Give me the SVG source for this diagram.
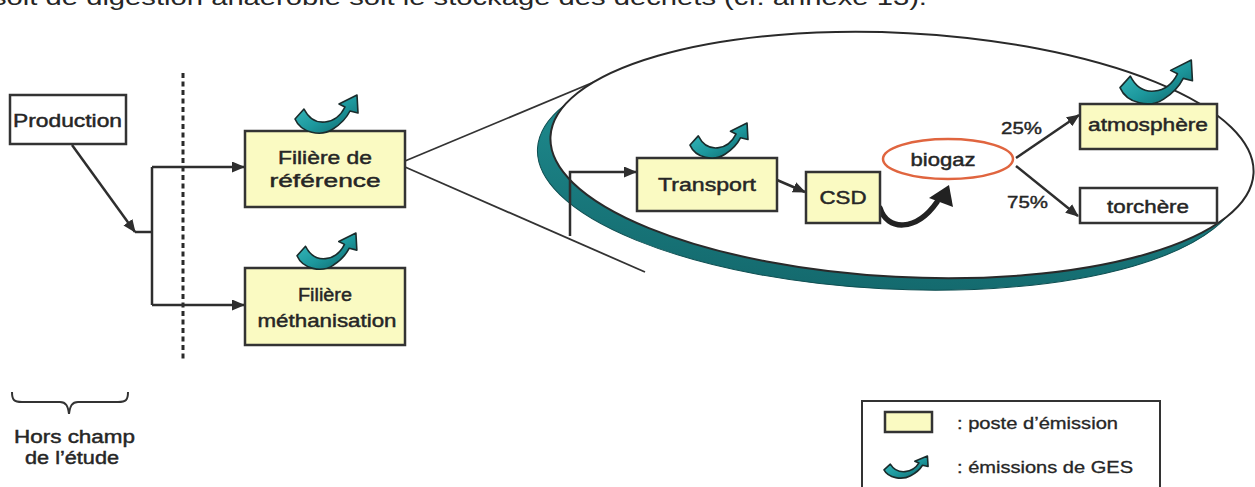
<svg xmlns="http://www.w3.org/2000/svg" xmlns:xlink="http://www.w3.org/1999/xlink" width="1255" height="487" viewBox="0 0 1255 487">
  <defs>
    <style>
      text { font-family: "Liberation Sans", Arial, sans-serif; fill: #262626; }
      .lbl { font-size: 18px; text-anchor: middle; stroke: #262626; stroke-width: 0.45; }
      .small { font-size: 16px; stroke: #262626; stroke-width: 0.3; }
      .box { stroke: #333; stroke-width: 2.5; }
      .poste { fill: #fafac2; }
      .plain { fill: #ffffff; }
      .conn { fill: none; stroke: #2e2e2e; stroke-width: 2.5; }
      .thin { fill: none; stroke: #333; stroke-width: 1.8; }
    </style>
    <marker id="arrow" markerUnits="userSpaceOnUse" markerWidth="13" markerHeight="11" refX="12" refY="5.5" orient="auto">
      <path d="M0,0 L13,5.5 L0,11 z" fill="#2e2e2e"/>
    </marker>
    <linearGradient id="tealGrad" x1="0" y1="0" x2="1" y2="1">
      <stop offset="0" stop-color="#3fc3c6"/>
      <stop offset="0.55" stop-color="#1c979c"/>
      <stop offset="1" stop-color="#0e5f64"/>
    </linearGradient>
    <linearGradient id="bandGrad" x1="0" y1="0" x2="0" y2="1">
      <stop offset="0" stop-color="#22979a"/>
      <stop offset="1" stop-color="#146a6e"/>
    </linearGradient>
    <!-- GHG emission glyph: curved arrow pointing up-right -->
    <path id="ges" d="M0,24 C6,38 26,42 38,34 C46,29 52,22 55,16 L63,18 L62,0 L44,9 L50,12 C46,20 40,26 30,27 C20,28 13,22 9,14 Z" fill="url(#tealGrad)" stroke="#1a2c2c" stroke-width="1.6" stroke-linejoin="round" vector-effect="non-scaling-stroke"/>
  </defs>

  <!-- running text from the page above -->
  <text x="-8" y="5" font-size="22" textLength="935" lengthAdjust="spacingAndGlyphs">soit de digestion anaérobie soit le stockage des déchets (cf. annexe 13).</text>

  <!-- zoom lines from the reference chain to the detail ellipse -->
  <g id="zoom-lines">
    <line x1="405" y1="161" x2="606" y2="77" class="thin"/>
  </g>

  <!-- detail ellipse with teal shadow band -->
  <g id="detail-ellipse">
    <ellipse cx="889" cy="167" rx="352" ry="122" transform="rotate(3 889 167)" fill="url(#bandGrad)" stroke="#0f4f52" stroke-width="1"/>
    <ellipse cx="902" cy="155" rx="352" ry="122" transform="rotate(3 902 155)" fill="#ffffff" stroke="#2a2a2a" stroke-width="2"/>
  </g>

  <g id="zoom-line-lower">
    <line x1="405" y1="167" x2="645" y2="272" class="thin"/>
  </g>

  <!-- scope boundary -->
  <g id="boundary">
    <line x1="183" y1="73" x2="183" y2="360" stroke="#2a2a2a" stroke-width="3" stroke-dasharray="5 3.5"/>
    <path d="M12,392 C12,400 14,402 22,402 L60,402 C66,402 68,406 69,414 C70,406 72,402 78,402 L118,402 C126,402 128,400 128,392" fill="none" stroke="#333" stroke-width="2"/>
    <text class="lbl" x="74.5" y="443" font-size="17" textLength="121" lengthAdjust="spacingAndGlyphs">Hors champ</text>
    <text class="lbl" x="72" y="464" font-size="17" textLength="94" lengthAdjust="spacingAndGlyphs">de l’étude</text>
  </g>

  <!-- connectors -->
  <g id="connectors">
    <line x1="72" y1="145" x2="135" y2="232" class="conn" marker-end="url(#arrow)"/>
    <polyline points="135,232 152,232" class="conn"/>
    <polyline points="152,167 152,305" class="conn"/>
    <line x1="152" y1="167" x2="244" y2="167" class="conn" marker-end="url(#arrow)"/>
    <line x1="152" y1="305" x2="244" y2="305" class="conn" marker-end="url(#arrow)"/>
    <polyline points="570,236 570,172 636,172" class="conn" marker-end="url(#arrow)"/>
    <line x1="777" y1="180" x2="805" y2="192" class="conn" marker-end="url(#arrow)"/>
    <line x1="1016" y1="158" x2="1079" y2="115" class="conn" marker-end="url(#arrow)"/>
    <line x1="1016" y1="166" x2="1078" y2="216" class="conn" marker-end="url(#arrow)"/>
    <!-- biogas release from the landfill -->
    <path d="M880,208 C887,231 916,232 937,202" fill="none" stroke="#222" stroke-width="5.5" stroke-linecap="round"/>
    <polygon points="929,198 949,185 953,207" fill="#222"/>
  </g>

  <g id="production">
    <rect x="10" y="95" width="116" height="49" class="box plain"/>
    <text class="lbl" x="67.5" y="127" textLength="109" lengthAdjust="spacingAndGlyphs">Production</text>
  </g>

  <g id="filiere-reference">
    <rect x="245" y="131" width="160" height="76" class="box poste"/>
    <text class="lbl" x="325" y="164" textLength="94" lengthAdjust="spacingAndGlyphs">Filière de</text>
    <text class="lbl" x="325" y="187" textLength="111" lengthAdjust="spacingAndGlyphs">référence</text>
    <use xlink:href="#ges" transform="translate(295,95)"/>
  </g>

  <g id="filiere-methanisation">
    <rect x="245" y="268" width="160" height="77" class="box poste"/>
    <text class="lbl" x="325" y="301" textLength="54" lengthAdjust="spacingAndGlyphs">Filière</text>
    <text class="lbl" x="327" y="327" textLength="139" lengthAdjust="spacingAndGlyphs">méthanisation</text>
    <use xlink:href="#ges" transform="translate(297,233) scale(0.95)"/>
  </g>

  <g id="transport">
    <rect x="637" y="158" width="140" height="53" class="box poste"/>
    <text class="lbl" x="707" y="191" textLength="98" lengthAdjust="spacingAndGlyphs">Transport</text>
    <use xlink:href="#ges" transform="translate(690,123) scale(0.92)"/>
  </g>

  <g id="csd">
    <rect x="806" y="172" width="74" height="51" class="box poste"/>
    <text class="lbl" x="843" y="204" textLength="47" lengthAdjust="spacingAndGlyphs">CSD</text>
  </g>

  <g id="biogaz">
    <ellipse cx="948" cy="159" rx="65" ry="20" fill="#ffffff" stroke="#e0653f" stroke-width="2.5"/>
    <text class="lbl" x="943" y="166" textLength="65" lengthAdjust="spacingAndGlyphs">biogaz</text>
  </g>

  <g id="atmosphere">
    <rect x="1080" y="104" width="137" height="45" class="box poste"/>
    <text class="lbl" x="1148" y="131" textLength="120" lengthAdjust="spacingAndGlyphs">atmosphère</text>
    <use xlink:href="#ges" transform="translate(1120,60) scale(1.15)"/>
  </g>

  <g id="torchere">
    <rect x="1080" y="188" width="137" height="35" class="box plain"/>
    <text class="lbl" x="1148" y="213" textLength="82" lengthAdjust="spacingAndGlyphs">torchère</text>
  </g>

  <g id="shares">
    <text x="1001" y="134" font-size="16" stroke="#262626" stroke-width="0.4" textLength="41" lengthAdjust="spacingAndGlyphs">25%</text>
    <text x="1007" y="208" font-size="16" stroke="#262626" stroke-width="0.4" textLength="41" lengthAdjust="spacingAndGlyphs">75%</text>
  </g>

  <g id="legend">
    <rect x="862" y="401" width="298" height="100" fill="#ffffff" stroke="#333" stroke-width="2"/>
    <rect x="885" y="412" width="47" height="20" class="box poste" stroke-width="2"/>
    <text class="small" x="957" y="429" textLength="161" lengthAdjust="spacingAndGlyphs">: poste d’émission</text>
    <use xlink:href="#ges" transform="translate(884,456) scale(0.7,0.58)"/>
    <text class="small" x="957" y="473" textLength="176" lengthAdjust="spacingAndGlyphs">: émissions de GES</text>
  </g>
</svg>
